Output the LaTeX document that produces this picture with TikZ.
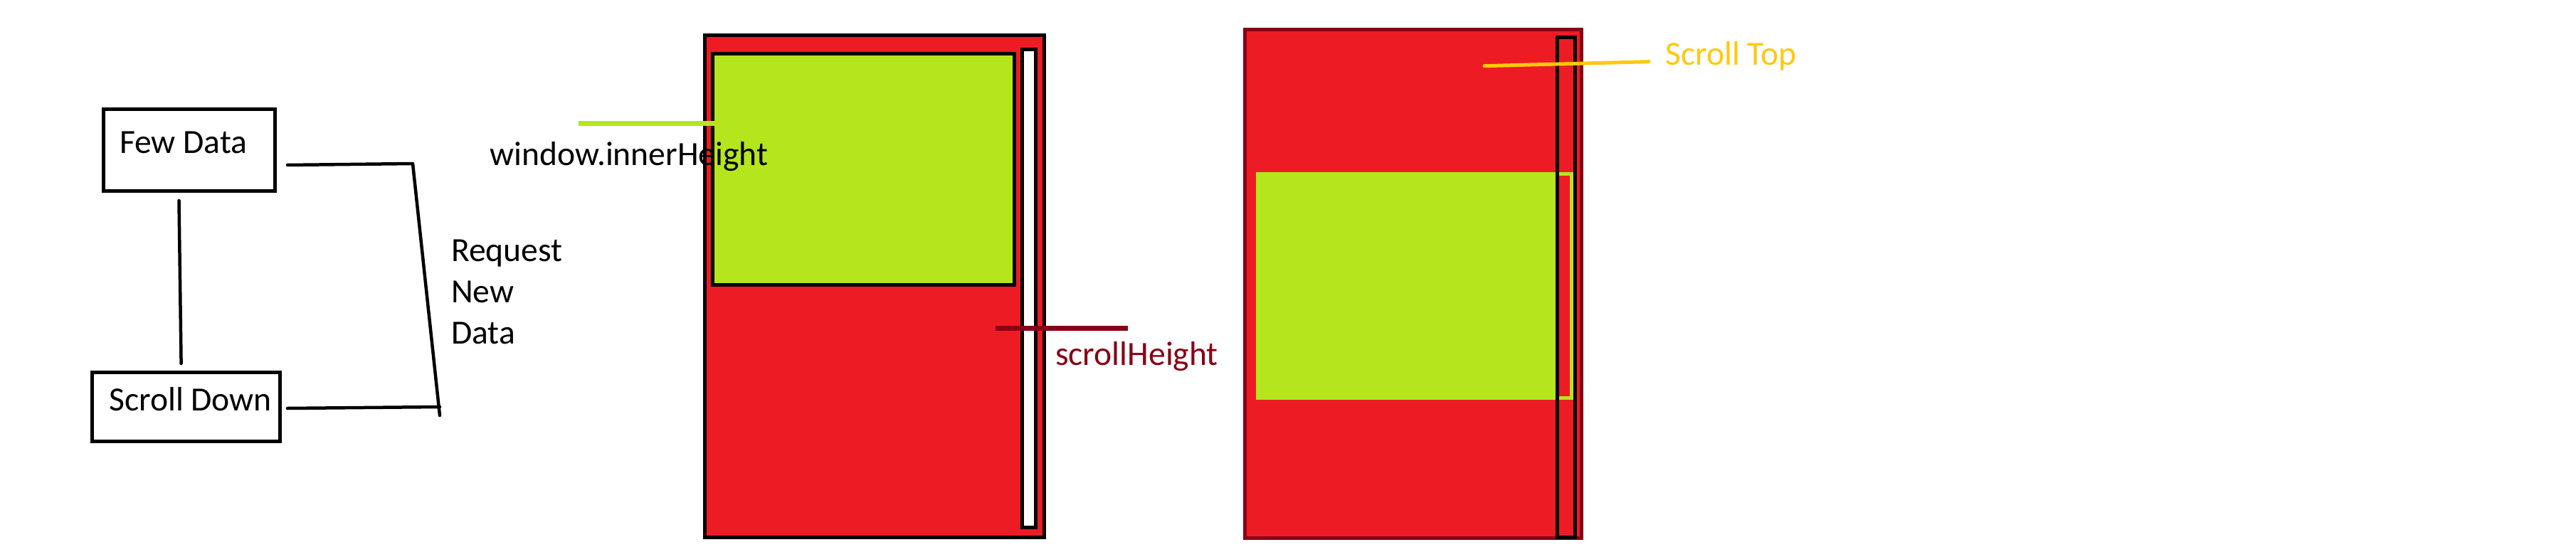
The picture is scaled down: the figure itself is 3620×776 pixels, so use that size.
\documentclass[tikz,border=0pt]{standalone}
\usepackage{fontspec}
\setmainfont{Carlito}
\definecolor{pred}{HTML}{ED1C24}
\definecolor{plime}{HTML}{B5E61D}
\definecolor{pdark}{HTML}{880015}
\definecolor{pyel}{HTML}{FFC90E}
\begin{document}
\begin{tikzpicture}[x=1pt,y=-1pt,
  box/.style={draw=black,line width=5pt,fill=white,inner sep=0pt},
  lbl/.style={inner sep=0pt,anchor=base west,font=\fontsize{47.6pt}{56pt}\selectfont},
  link/.style={draw=black,line width=4.5pt,line cap=round,line join=round},
  frame/.style={line width=5pt}]
\useasboundingbox[fill=white] (0,0) rectangle (3620,776);
% ---- left flow ----
\node[box,minimum width=241pt,minimum height=115pt] (few) at (266,211) {};
\node[lbl] (fewtxt) at (168,215.5) {Few Data};
\node[box,minimum width=264.5pt,minimum height=97pt] (scroll) at (261.25,572) {};
\node[lbl] (scrolltxt) at (153,577) {Scroll Down};
\coordinate (v1) at (251.5,282);
\coordinate (v2) at (254.6,511);
\draw[link] (v1) -- (v2);
\coordinate (t1) at (404,232);
\coordinate (t2) at (580,230);
\coordinate (t3) at (618,584);
\coordinate (b1) at (404,574);
\coordinate (b2) at (618,572);
\draw[link] (t1) -- (t2) -- (t3);
\draw[link] (b1) -- (b2);
\node[lbl] (req1) at (634,367) {Request};
\node[lbl] (req2) at (634,425) {New};
\node[lbl] (req3) at (634,483) {Data};
% ---- panel 2 ----
\draw[frame,fill=pred,draw=black] (990.5,49.8) rectangle (1467.5,755.2);
\draw[frame,fill=plime,draw=black] (1001.5,75.8) rectangle (1425.5,400.5);
\draw[frame,fill=white,draw=black] (1436.5,69.5) rectangle (1455.5,741.5);
\draw[plime,line width=7pt] (813,173) -- (1004,173);
\node[lbl] (innerh) at (688,232.7) {window.innerHeight};
\draw[pdark,line width=7pt] (1399,461) -- (1585,461);
\node[lbl,text=pdark] (sheight) at (1483,513) {scrollHeight};
% ---- panel 3 ----
\draw[frame,fill=pred,draw=pdark] (1749,41.5) rectangle (2222.5,756.5);
\fill[plime] (1765,242) rectangle (2211,562);
\fill[pred] (2191,247) rectangle (2206,557);
\draw[frame,draw=black] (2188.5,52.5) rectangle (2213.5,755.5);
\draw[pyel,line width=5pt,line cap=round] (2086,92.7) -- (2317,86.7);
\node[lbl,text=pyel] (stop) at (2340,92) {Scroll Top};
\end{tikzpicture}
\end{document}
